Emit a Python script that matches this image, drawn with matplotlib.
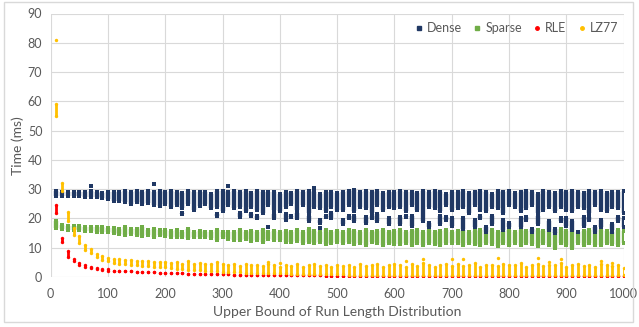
import matplotlib
matplotlib.use("Agg")
import matplotlib.pyplot as plt
from matplotlib.lines import Line2D
from matplotlib.patches import Rectangle

plt.rcParams['font.family'] = ['Lato', 'DejaVu Sans']

# run length upper bound: 10, 20, ..., 1000
x = list(range(10, 1001, 10))

# Dense: main (upper) cluster of each column
dense_hi = [29.3, 29.0, 29.0, 29.0, 29.0, 29.2, 29.3, 29.0, 28.8, 29.0,
            29.2, 29.0, 29.3, 29.0, 29.5, 29.0, 29.3, 29.0, 29.5, 29.0,
            29.5, 29.0, 28.8, 29.5, 29.0, 29.2, 29.0, 28.5, 29.3, 29.5,
            29.0, 29.5, 29.0, 29.3, 28.8, 29.5, 29.0, 29.2, 29.0, 28.5,
            29.0, 28.8, 29.5, 29.0, 29.3, 29.0, 28.5, 29.2, 29.0, 28.8,
            29.0, 29.5, 29.8, 29.0, 29.3, 29.0, 29.5, 28.8, 29.0, 29.2,
            29.5, 29.0, 29.2, 28.8, 29.5, 29.0, 29.3, 29.0, 28.5, 29.2,
            29.0, 29.5, 28.8, 29.2, 29.5, 29.0, 28.5, 29.3, 29.0, 29.5,
            28.8, 29.2, 29.5, 29.0, 28.5, 29.3, 29.0, 28.8, 29.5, 29.0,
            29.5, 29.0, 28.8, 29.3, 29.0, 29.5, 28.8, 29.2, 29.0, 29.5]
dense_lo = [27.6, 27.8, 27.8, 27.8, 27.5, 27.4, 27.3, 27.2, 27.0, 26.8,
            26.0, 25.8, 25.5, 25.0, 25.5, 24.8, 25.2, 24.5, 24.2, 25.0,
            24.0, 24.5, 23.5, 24.8, 23.0, 24.2, 25.0, 23.5, 24.0, 22.5,
            24.5, 23.5, 24.0, 22.5, 24.0, 23.0, 22.0, 24.5, 23.0, 22.5,
            24.0, 25.0, 23.0, 24.5, 22.0, 24.0, 23.5, 22.5, 24.0, 23.0,
            23.0, 24.5, 22.5, 24.0, 23.5, 22.0, 24.5, 23.0, 24.0, 23.5,
            24.0, 22.5, 24.5, 23.0, 22.0, 24.0, 23.5, 22.5, 24.5, 23.0,
            23.5, 24.0, 22.0, 24.5, 23.0, 22.5, 24.0, 23.5, 22.0, 24.5,
            24.0, 22.5, 23.5, 24.5, 22.0, 23.0, 24.0, 22.5, 24.0, 23.0,
            22.5, 24.0, 23.5, 22.0, 24.5, 23.0, 22.5, 24.0, 23.5, 22.0]

# Dense: lower clusters (separate from the main block)
dense2_x = [230, 290, 330, 350, 360, 390, 410, 420, 430, 450, 470, 480, 490,
            510, 520, 530, 550, 560, 570, 590, 610, 620, 630, 650, 660, 680,
            690, 700, 720, 740, 750, 760, 770, 790, 800, 820, 830, 840, 850,
            870, 880, 890, 900, 910, 930, 940, 950, 960, 980, 990, 1000]
dense2_lo = [21.5, 21.0, 20.5, 21.0, 20.0, 20.0, 19.5, 20.5, 20.0, 19.0, 18.5, 20.5, 20.0,
             18.0, 20.0, 19.0, 18.5, 20.0, 19.0, 18.0, 18.0, 20.5, 17.5, 19.0, 17.0, 18.0,
             19.5, 17.5, 16.5, 17.0, 20.0, 15.5, 18.0, 16.0, 17.0, 17.0, 19.5, 15.5, 18.0,
             16.0, 15.0, 19.0, 17.5, 16.0, 17.5, 19.5, 15.5, 17.0, 16.0, 19.0, 17.0]
dense2_hi = [22.0, 21.5, 22.0, 21.5, 21.0, 21.5, 21.5, 21.0, 22.0, 21.0, 19.5, 21.0, 22.0,
             19.5, 21.0, 21.0, 20.5, 21.0, 21.5, 20.0, 20.5, 21.0, 21.0, 22.0, 18.5, 21.0,
             20.5, 20.0, 20.0, 19.5, 21.0, 17.0, 21.0, 19.5, 18.5, 20.0, 20.5, 16.5, 21.0,
             19.0, 16.5, 20.0, 20.0, 19.0, 20.5, 20.5, 17.0, 19.5, 18.0, 20.5, 20.0]

# Dense: isolated points
dense_out_x = [70, 180, 310, 380, 460, 470, 840, 880, 920, 980]
dense_out_y = [31.2, 31.8, 31.0, 17.2, 30.5, 16.8, 16.0, 15.8, 15.5, 15.5]

sparse_hi = [19.0, 17.8, 17.5, 17.5, 17.3, 17.2, 17.2, 17.0, 17.0, 16.8,
             16.8, 16.5, 17.0, 16.5, 16.3, 17.0, 16.2, 16.5, 16.0, 16.0,
             15.8, 16.0, 15.5, 16.5, 15.5, 15.8, 15.3, 15.5, 16.2, 15.5,
             15.5, 15.3, 16.0, 15.5, 15.8, 15.5, 16.2, 15.3, 15.8, 15.5,
             15.8, 15.5, 16.0, 15.3, 16.5, 15.8, 15.5, 16.0, 15.3, 15.8,
             15.5, 16.0, 15.8, 15.5, 16.2, 15.3, 15.8, 16.0, 15.5, 15.8,
             16.0, 15.5, 15.8, 16.2, 15.5, 16.0, 15.3, 15.8, 16.0, 15.5,
             15.8, 16.0, 15.5, 15.8, 16.2, 15.5, 16.0, 15.3, 15.8, 16.0,
             15.5, 16.0, 15.8, 15.5, 16.2, 15.8, 16.0, 15.5, 16.5, 15.8,
             16.0, 15.5, 15.8, 16.2, 15.5, 16.0, 15.8, 15.5, 16.0, 15.8]
sparse_lo = [16.8, 16.3, 16.2, 16.0, 16.0, 15.8, 15.8, 15.5, 15.5, 15.3,
             15.0, 14.8, 14.5, 14.8, 14.2, 14.0, 14.5, 13.8, 14.2, 14.0,
             13.8, 13.5, 13.5, 13.2, 13.8, 13.5, 13.5, 13.2, 12.8, 13.5,
             13.0, 12.8, 12.5, 13.0, 12.2, 12.8, 12.0, 13.0, 12.5, 12.8,
             12.0, 11.8, 12.2, 11.5, 11.8, 11.5, 12.0, 11.2, 11.6, 11.8,
             11.5, 11.8, 11.2, 11.6, 11.0, 11.8, 11.5, 11.0, 11.6, 11.2,
             11.2, 11.6, 11.0, 11.5, 10.8, 11.6, 11.2, 10.8, 11.5, 11.6,
             11.5, 11.0, 11.6, 11.2, 10.8, 11.5, 11.2, 10.5, 11.5, 11.0,
             11.5, 10.8, 11.6, 11.2, 10.5, 11.5, 11.0, 9.8, 11.5, 10.8,
             10.0, 11.6, 10.8, 11.5, 11.0, 10.8, 11.6, 11.2, 10.8, 11.5]

rle_hi = [24.5, 13.2, 8.8, 6.3, 4.8, 4.0, 3.5, 3.1, 2.8, 2.6,
          2.2, 2.1, 2.0, 1.9, 1.8, 1.7, 1.6, 1.6, 1.5, 1.4,
          1.3, 1.2, 1.2, 1.1, 1.1, 1.0, 1.0, 1.0, 0.9, 0.9,
          0.9, 0.8, 0.8, 0.8, 0.8, 0.7, 0.7, 0.7, 0.7, 0.7,
          0.6, 0.6, 0.6, 0.6, 0.6, 0.6, 0.6, 0.5, 0.5, 0.5,
          0.5, 0.5, 0.5, 0.5, 0.5, 0.5, 0.4, 0.4, 0.4, 0.4,
          0.4, 0.4, 0.4, 0.4, 0.4, 0.4, 0.4, 0.4, 0.3, 0.3,
          0.3, 0.3, 0.3, 0.3, 0.3, 0.3, 0.3, 0.3, 0.3, 0.3,
          0.3, 0.3, 0.3, 0.3, 0.3, 0.3, 0.3, 0.3, 0.3, 0.3,
          0.3, 0.3, 0.3, 0.3, 0.3, 0.3, 0.3, 0.3, 0.3, 0.3]
rle_lo = [22.0, 11.8, 6.8, 5.3, 4.0, 3.5, 3.0, 2.7, 2.4, 2.2] + rle_hi[10:]

lz_hi = [59.0, 32.2, 22.3, 16.7, 14.0, 10.9, 9.4, 7.9, 7.1, 6.6,
         6.3, 6.0, 5.8, 5.8, 5.5, 5.3, 5.5, 5.0, 5.2, 5.0,
         4.8, 5.0, 4.5, 5.3, 4.5, 4.8, 4.3, 4.5, 5.0, 4.5,
         4.0, 4.3, 3.8, 4.5, 4.0, 4.2, 3.8, 4.3, 4.0, 3.5,
         4.0, 3.8, 4.3, 3.5, 4.0, 4.5, 3.8, 4.2, 3.5, 4.0,
         3.8, 4.2, 3.5, 4.5, 3.8, 4.0, 4.3, 3.5, 4.0, 4.5,
         4.0, 3.5, 4.5, 3.8, 4.8, 4.0, 3.5, 4.2, 4.5, 3.8,
         4.5, 3.8, 4.0, 4.8, 3.5, 4.2, 4.0, 3.8, 4.5, 4.0,
         4.2, 4.8, 3.5, 4.0, 4.5, 3.8, 4.2, 4.0, 4.8, 3.5,
         4.0, 4.5, 3.8, 4.2, 3.5, 4.5, 4.0, 3.8, 4.2, 3.0]
lz_lo = [55.0, 29.5, 19.0, 14.3, 11.7, 9.2, 8.1, 6.8, 5.8, 5.4,
         4.8, 4.5, 4.3, 4.2, 4.0, 3.8, 3.6, 3.5, 3.4, 3.3,
         3.0, 2.8, 2.7, 2.5, 2.4, 2.3, 2.2, 2.0, 2.0, 1.8,
         1.8, 1.7, 1.6, 1.5, 1.5, 1.4, 1.4, 1.3, 1.3, 1.2,
         1.2, 1.1, 1.1, 1.0, 1.0, 1.0, 0.9, 0.9, 0.9, 0.9,
         0.9, 0.8, 0.8, 0.8, 0.8, 0.8, 0.8, 0.8, 0.8, 0.8,
         0.8, 0.8, 0.7, 0.7, 0.7, 0.7, 0.7, 0.7, 0.7, 0.7,
         0.7, 0.7, 0.7, 0.7, 0.7, 0.7, 0.7, 0.7, 0.7, 0.7,
         0.7, 0.7, 0.7, 0.7, 0.7, 0.7, 0.7, 0.7, 0.7, 0.7,
         0.7, 0.7, 0.7, 0.7, 0.7, 0.7, 0.7, 0.7, 0.7, 0.7]
lz_out_x = [10, 380, 400, 620, 650, 700, 720, 780, 850, 870, 890, 960, 980]
lz_out_y = [81.0, 5.0, 4.8, 5.5, 6.0, 6.0, 6.1, 6.5, 6.6, 5.2, 6.2, 5.3, 4.8]

C_DENSE = '#203864'
C_SPARSE = '#70AD47'
C_RLE = '#FF0000'
C_LZ = '#FFC000'
GRID = '#D9D9D9'
TXT = '#595959'

fig = plt.figure(figsize=(6.39, 3.27), dpi=100)
fig.patches.append(Rectangle((4 / 639, 5 / 327), 629 / 639, 320 / 327, transform=fig.transFigure,
                             fill=False, edgecolor=GRID, linewidth=1.0))
ax = fig.add_axes([50.7 / 639, 1 - 277 / 327, 573 / 639, 263.5 / 327])


def column_marks(xs, lo, hi, color, marker, size, width, z):
    ax.vlines(xs, lo, hi, colors=color, linewidth=width, zorder=z)
    ax.scatter(xs, lo, s=size, marker=marker, color=color, linewidths=0, zorder=z)
    ax.scatter(xs, hi, s=size, marker=marker, color=color, linewidths=0, zorder=z)


column_marks(x, sparse_lo, sparse_hi, C_SPARSE, 's', 10, 3.1, 3)
column_marks(x, dense_lo, dense_hi, C_DENSE, 's', 10, 3.1, 4)
column_marks(dense2_x, dense2_lo, dense2_hi, C_DENSE, 's', 10, 3.1, 4)
ax.scatter(dense_out_x, dense_out_y, s=10, marker='s', color=C_DENSE, linewidths=0, zorder=4)
column_marks(x, rle_lo, rle_hi, C_RLE, 'o', 6, 2.0, 5)
column_marks(x, lz_lo, lz_hi, C_LZ, 'o', 6, 2.0, 6)
ax.scatter(lz_out_x, lz_out_y, s=6, marker='o', color=C_LZ, linewidths=0, zorder=6)

ax.set_xlim(0, 1000)
ax.set_ylim(0, 90)
ax.set_xticks(range(0, 1001, 100))
ax.set_yticks(range(0, 91, 10))
ax.grid(True, color=GRID, linewidth=0.8, zorder=0)
ax.set_axisbelow(True)
for s in ax.spines.values():
    s.set_visible(False)
ax.tick_params(length=0, labelsize=9, labelcolor=TXT)
ax.tick_params(axis='x', pad=8)
ax.tick_params(axis='y', pad=6)
ax.set_xlabel('Upper Bound of Run Length Distribution', fontsize=10, color=TXT, labelpad=4)
ax.set_ylabel('Time (ms)', fontsize=10, color=TXT, labelpad=3)

handles = [
    Line2D([], [], linestyle='none', marker='s', markersize=3.3, color=C_DENSE),
    Line2D([], [], linestyle='none', marker='s', markersize=3.3, color=C_SPARSE),
    Line2D([], [], linestyle='none', marker='o', markersize=2.5, color=C_RLE),
    Line2D([], [], linestyle='none', marker='o', markersize=2.5, color=C_LZ),
]
ax.legend(handles, ['Dense', 'Sparse', 'RLE', 'LZ77'], loc='upper right', ncol=4,
          frameon=False, fontsize=9, labelcolor=TXT, handlelength=0.6,
          handletextpad=0.35, columnspacing=0.9, bbox_to_anchor=(1.01, 1.01))

fig.savefig('out.png', dpi=100)
